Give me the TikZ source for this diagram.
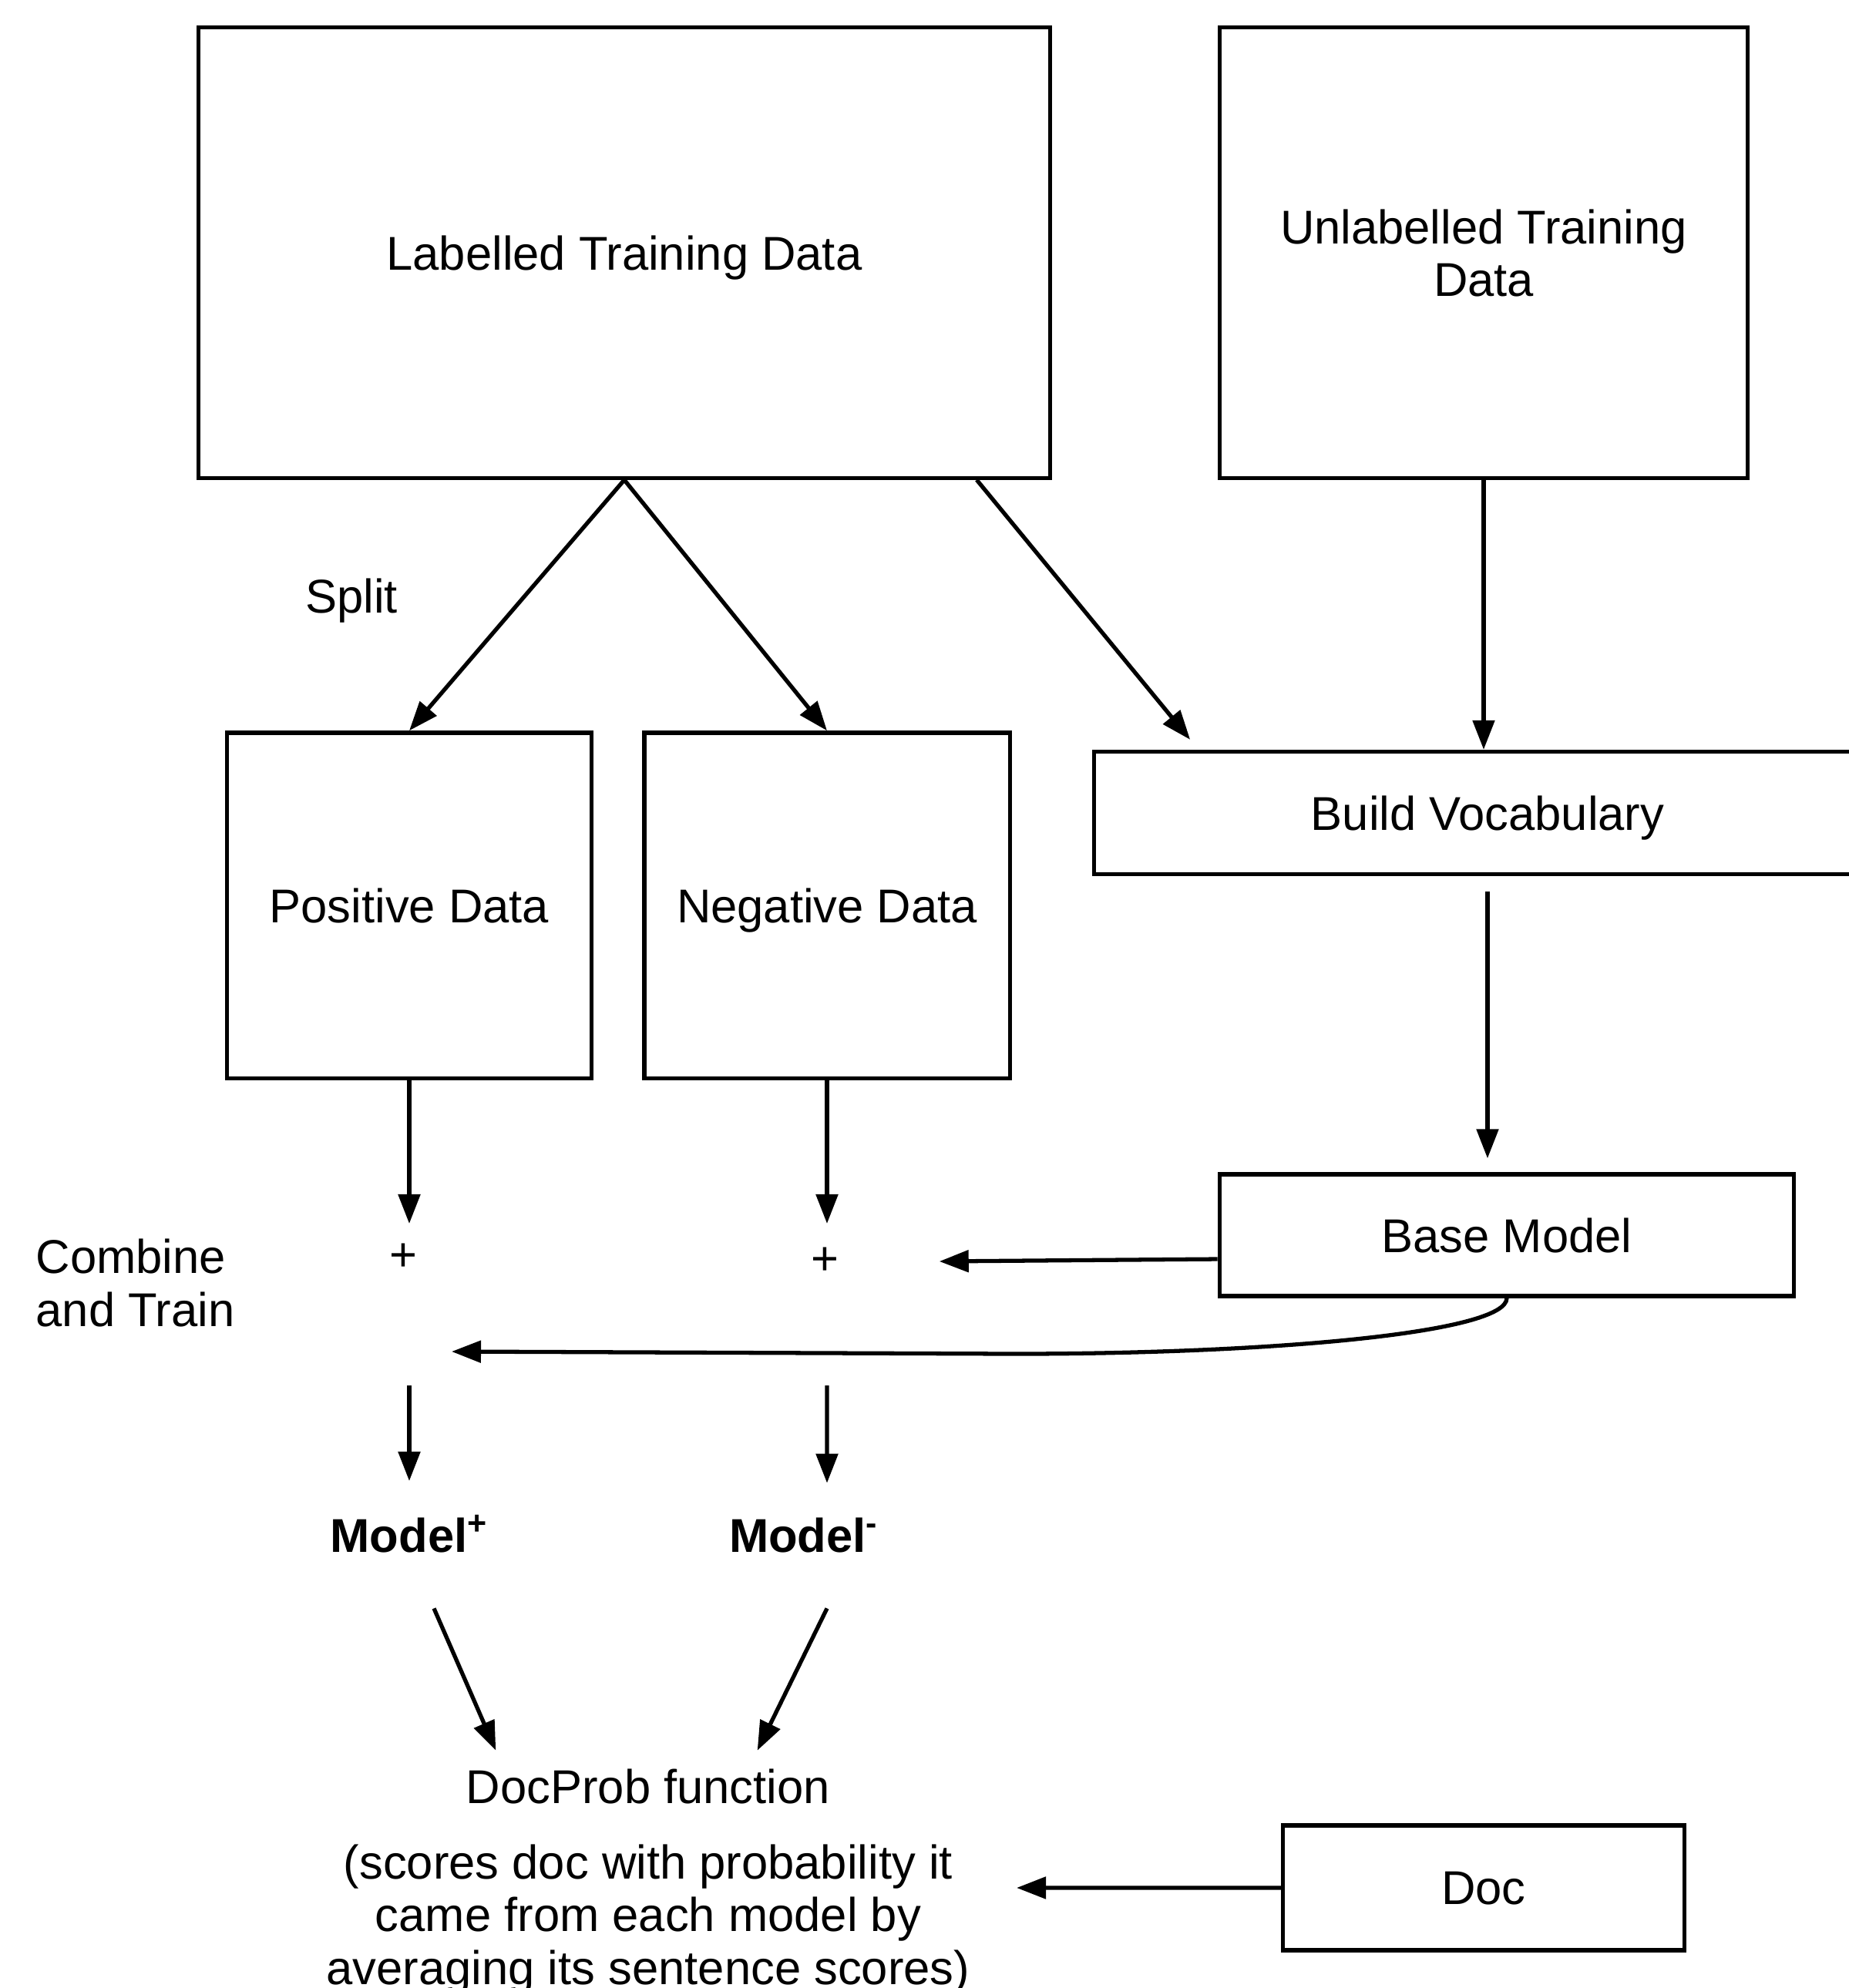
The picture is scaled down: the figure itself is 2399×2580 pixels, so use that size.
\documentclass[tikz,border=0pt]{standalone}
\usepackage{fontspec}
\setmainfont{Liberation Sans}
\usetikzlibrary{arrows.meta,positioning}
\tikzset{
  box/.style={draw, line width=1.5pt, align=center, inner sep=0pt, text depth=0pt},
  txt/.style={align=center, inner sep=0pt},
  arr/.style={line width=1.5pt, -{Triangle[length=0.38cm,width=0.28cm]}},
}
\begin{document}
\begin{tikzpicture}[x=0.01cm, y=-0.01cm, font=\fontsize{17.5}{19.4}\selectfont]
\useasboundingbox (0,0) rectangle (2399,2580);

% Boxes
\node[box, minimum width=11.04cm, minimum height=5.84cm] (lab) at (810,328) {Labelled Training Data};
\node[box, minimum width=6.84cm, minimum height=5.84cm] (unlab) at (1925,328) {Unlabelled Training\\Data};
\node[box, minimum width=4.73cm, minimum height=4.48cm] (pos) at (531,1175) {Positive Data};
\node[box, minimum width=4.74cm, minimum height=4.48cm] (neg) at (1073,1175) {Negative Data};
\node[box, minimum width=10.2cm, minimum height=1.59cm] (vocab) at (1930,1055) {Build Vocabulary};
\node[box, minimum width=7.45cm, minimum height=1.58cm] (base) at (1955,1603) {Base Model};
\node[box, minimum width=5.2cm, minimum height=1.62cm] (doc) at (1925,2450) {Doc};

% Free text
\node[txt] (split) at (456,780) {Split};
\node[txt, anchor=west, align=left] (combine) at (46,1665) {Combine\\and Train};
\node[txt] (plusA) at (523,1632) {+};
\node[txt] (plusB) at (1070,1637) {+};
\node[txt, anchor=base, font=\fontsize{17.5}{19.4}\selectfont\bfseries] (modelP) at (531,2014) {Model\textsuperscript{+}};
\node[txt, anchor=base, font=\fontsize{17.5}{19.4}\selectfont\bfseries] (modelM) at (1043,2014) {Model\textsuperscript{-}};
\node[txt] (docprob) at (841,2318) {DocProb function};
\node[txt] (scores) at (841,2491) {(scores doc with probability it\\came from each model by\\averaging its sentence scores)};

% Points where the training happens
\coordinate (pa) at (pos.south |- plusA.center);
\coordinate (nb) at (neg.south |- plusB.center);
\coordinate (trainA) at (531,1798);
\coordinate (trainB) at (1073,1798);
\coordinate (trainpt) at (586,1754);
\coordinate (vb) at (vocab.south |- base.north);

% Connectors
\draw[arr] (lab.south) -- (pos.north);
\draw[arr] (lab.south) -- (neg.north);
\draw[arr] ([xshift=4.57cm]lab.south) -- ([xshift=1.27cm,yshift=0.13cm]vocab.north west);
\draw[arr] (unlab.south) -- (unlab.south |- vocab.north);
\draw[arr] ([yshift=-0.2cm]vocab.south) -- ([yshift=0.18cm]vb);
\draw[arr] (pos.south) -- ([yshift=0.44cm]pa);
\draw[arr] (neg.south) -- ([yshift=0.49cm]nb);
\draw[arr] ([yshift=-0.31cm]base.west) -- ([xshift=1.3cm]plusB.east);
\draw[arr] (base.south) .. controls ([yshift=-0.45cm]base.south) and (1650,1757) .. (1316,1757) -- (trainpt);
\draw[arr] (trainA) -- ([yshift=0.44cm]modelP.north);
\draw[arr] (trainB) -- ([xshift=0.30cm,yshift=0.44cm]modelM.north);
\draw[arr] ([xshift=0.32cm,yshift=-0.72cm]modelP.south) -- ([xshift=0.39cm,yshift=0.23cm]docprob.north west);
\draw[arr] ([xshift=0.30cm,yshift=-0.72cm]modelM.south) -- ([xshift=-0.95cm,yshift=0.23cm]docprob.north east);
\draw[arr] (doc.west) -- ([xshift=0.6cm,yshift=0.41cm]scores.east);
\end{tikzpicture}
\end{document}
